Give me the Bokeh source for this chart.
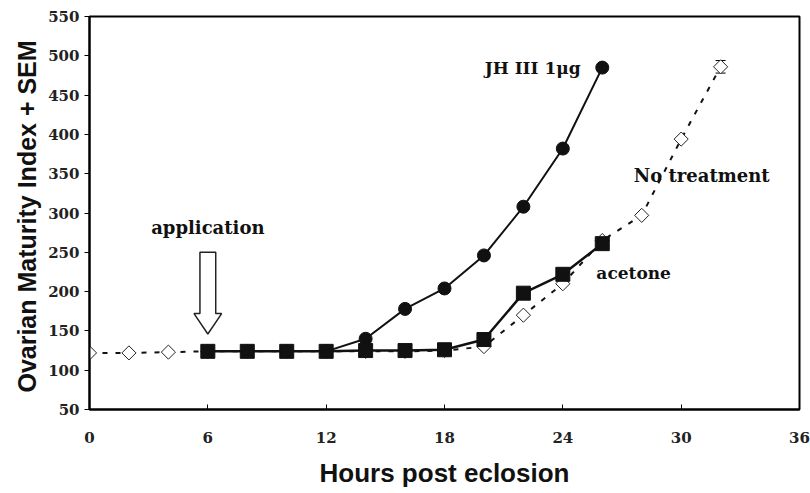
import math
from bokeh.plotting import figure
from bokeh.models import Range1d, FixedTicker, Label, Whisker, ColumnDataSource
from bokeh.embed import file_html
from bokeh.resources import INLINE

# Data (hours post eclosion vs Ovarian Maturity Index)
none_x = [0, 2, 4, 6, 8, 10, 12, 14, 16, 18, 20, 22, 24, 26, 28, 30, 32]
none_y = [122, 122, 123, 124, 124, 124, 124, 124, 124, 125, 130, 170, 210, 265, 297, 394, 486]
none_sem = [0, 0, 0, 0, 0, 0, 0, 0, 0, 0, 0, 0, 0, 0, 0, 0, 8]

jh_x = [12, 14, 16, 18, 20, 22, 24, 26]
jh_y = [124, 140, 178, 204, 246, 308, 382, 485]

acet_x = [6, 8, 10, 12, 14, 16, 18, 20, 22, 24, 26]
acet_y = [124, 124, 124, 124, 125, 125, 126, 139, 198, 222, 261]

x_ticks = [0, 6, 12, 18, 24, 30, 36]
y_ticks = [50, 100, 150, 200, 250, 300, 350, 400, 450, 500, 550]

# application arrow (data units)
arrow_x = 6
arrow_top = 250
arrow_neck = 172
arrow_tip = 146
shaft_half = 0.4
head_half = 0.7

p = figure(width=810, height=493, output_backend="svg", toolbar_location=None,
           x_range=Range1d(0, 36), y_range=Range1d(50, 550),
           min_border_left=89, min_border_right=11, min_border_top=16, min_border_bottom=84)
p.grid.visible = False
p.outline_line_color = "black"
p.outline_line_width = 2
p.background_fill_color = "white"
p.border_fill_color = "white"

serif = "DejaVu Serif"
sans = "Liberation Sans"

p.xaxis.ticker = FixedTicker(ticks=x_ticks)
p.yaxis.ticker = FixedTicker(ticks=y_ticks)
for ax in (p.xaxis[0], p.yaxis[0]):
    ax.axis_line_width = 2
    ax.axis_line_color = "black"
    ax.major_tick_line_color = "black"
    ax.minor_tick_line_color = None
    ax.major_label_text_font = serif
    ax.major_label_text_font_style = "bold"
    ax.major_label_text_font_size = "15px"
    ax.major_label_text_color = "#222"
    ax.axis_label_text_font = sans
    ax.axis_label_text_font_style = "bold"
    ax.axis_label_text_color = "#111"

p.xaxis.major_tick_in = 5
p.xaxis.major_tick_out = 0
p.xaxis.major_label_standoff = 22
p.xaxis.axis_label = "Hours post eclosion"
p.xaxis.axis_label_text_font_size = "26px"
p.xaxis.axis_label_standoff = 12

p.yaxis.major_tick_in = 0
p.yaxis.major_tick_out = 5
p.yaxis.major_label_standoff = 5
p.yaxis.axis_label = "Ovarian Maturity Index  + SEM"
p.yaxis.axis_label_text_font_size = "25px"
p.yaxis.axis_label_standoff = 4

# No treatment: dashed with open diamonds
src_none = ColumnDataSource(dict(x=none_x, y=none_y,
                                 lo=[a - b for a, b in zip(none_y, none_sem)],
                                 hi=[a + b for a, b in zip(none_y, none_sem)]))
p.line("x", "y", source=src_none, line_color="#111", line_width=2, line_dash="5 8")
p.add_layout(Whisker(source=src_none, base="x", lower="lo", upper="hi",
                     line_color="#222", line_width=1.5))
p.scatter("x", "y", source=src_none, marker="square", angle=math.pi / 4, size=10,
          fill_color="white", line_color="#222", line_width=1)

# JH III: solid with filled circles
p.line(jh_x, jh_y, line_color="#111", line_width=2)
p.scatter(jh_x, jh_y, marker="circle", size=13, fill_color="#111", line_color="#111")

# Acetone: solid with filled squares
p.line(acet_x, acet_y, line_color="#111", line_width=2.5)
p.scatter(acet_x, acet_y, marker="square", size=14, fill_color="#111", line_color="#111")

# application arrow (hollow block arrow)
ax_pts = [arrow_x - shaft_half, arrow_x + shaft_half, arrow_x + shaft_half,
          arrow_x + head_half, arrow_x, arrow_x - head_half, arrow_x - shaft_half]
ay_pts = [arrow_top, arrow_top, arrow_neck, arrow_neck, arrow_tip, arrow_neck, arrow_neck]
p.patch(ax_pts, ay_pts, fill_color="white", line_color="#222", line_width=1.5)

def lab(x, y, t, align="left", size="17px"):
    p.add_layout(Label(x=x, y=y, text=t, text_font=serif, text_font_style="bold",
                       text_font_size=size, text_color="#111", text_align=align,
                       text_baseline="middle"))

lab(6, 282, "application", "center", "18px")
lab(24.9, 485, "JH III 1\u03bcg", "right")
lab(27.6, 348, "No treatment", "left", "18px")
lab(25.7, 224, "acetone")

open("out.html", "w").write(file_html(p, INLINE))
